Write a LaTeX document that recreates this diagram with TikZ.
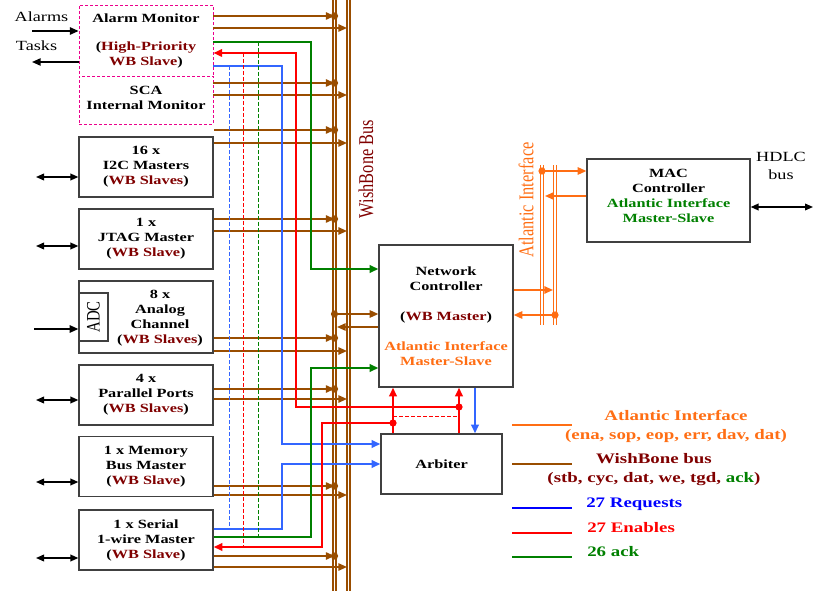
\documentclass[tikz,border=0pt]{standalone}
\usepackage{fontspec}
\setmainfont{Liberation Serif}[FakeStretch=1.3]
\newfontfamily\rotfont{Liberation Serif}[FakeStretch=0.78]
\usetikzlibrary{arrows.meta}
\definecolor{wbbrown}{RGB}{153,77,0}
\definecolor{wbred}{RGB}{128,0,0}
\definecolor{atlorange}{RGB}{255,110,20}
\definecolor{reqblue}{RGB}{51,102,255}
\definecolor{legblue}{RGB}{0,0,255}
\definecolor{ackgreen}{RGB}{0,128,0}
\definecolor{boxgray}{RGB}{64,64,64}
\newcommand{\blkfont}{\fontsize{9.4}{11.25}\selectfont\bfseries}
\newcommand{\legfont}{\fontsize{10.9}{14.2}\selectfont\bfseries}
\newcommand{\iofont}{\fontsize{10.5}{13.5}\selectfont}
\newcommand{\wb}[1]{\textcolor{wbred}{#1}}

\begin{document}
\begin{tikzpicture}[x=0.75pt,y=0.75pt,yscale=-1,xscale=1,
  blk/.style={draw=boxgray,line width=0.9pt,fill=white,minimum width=100.5pt,minimum height=45pt,inner sep=0pt,align=center,font=\blkfont},
  mon/.style={blk,draw=magenta,line width=0.6pt,dash pattern=on 2.25pt off 1.5pt},
  lbl/.style={inner sep=0pt,align=center},
  tipe/.style={-{Triangle[length=6.5pt,width=5.5pt]}},
  tipb/.style={{Triangle[length=6.5pt,width=5.5pt]}-},
  tipbe/.style={{Triangle[length=6pt,width=5pt]}-{Triangle[length=6pt,width=5pt]}},
  wbbus/.style={draw=wbbrown,double=white,double distance=1.3pt,line width=0.9pt},
  atbus/.style={draw=atlorange,double=white,double distance=1pt,line width=0.9pt},
  wbin/.style={wbbrown,line width=1.25pt,tipb},
  wbout/.style={wbbrown,line width=1.25pt,tipe},
  atl/.style={atlorange,line width=1.25pt,tipe},
  io/.style={black,line width=1.1pt},
  req/.style={reqblue,line width=1.7pt},
  en/.style={red,line width=1.7pt},
  ack/.style={ackgreen,line width=1.7pt},
  probe/.style={line width=0.6pt,dash pattern=on 3pt off 1.5pt}]
\useasboundingbox (0,0) rectangle (823,591);

%Straight Lines: WishBone and Atlantic buses
\draw[wbbus] (334.5,0) -- (334.5,591);
\draw[wbbus] (348.5,0) -- (348.5,591);
\draw[atbus] (542,165) -- (542,325);
\draw[atbus] (555,165) -- (555,325);
\coordinate (wbA) at (334.5,0);
\coordinate (wbB) at (347,0);
\coordinate (atA) at (542,0);
\coordinate (atB) at (555,0);

%Shape: Rectangle (slaves)
\node[mon,minimum height=53.25pt] (am) at (146,40.5) {Alarm Monitor\\[9.75pt](\wb{High-Priority}\\\wb{WB Slave})};
\node[mon,minimum height=36pt] (sca) at (146,100) {SCA\\Internal Monitor\\[-8pt]\mbox{}};
\node[blk] (i2c) at (146,167) {16 x\\I2C Masters\\(\wb{WB Slaves})};
\node[blk] (jtag) at (146,239) {1 x\\JTAG Master\\(\wb{WB Slave})};
\node[blk,minimum height=54pt] (ana) at (146,317) {};
\node[draw=boxgray,line width=0.9pt,minimum width=36pt,minimum height=21.75pt,inner sep=0pt,rotate=90,font={\rotfont\fontsize{14.25}{16}\selectfont}] (adc) at (93.5,317) {ADC};
\node[lbl,font=\blkfont] (anat) at (160,318) {8 x\\Analog\\Channel\\(\wb{WB Slaves})};
\node[blk] (par) at (146,395) {4 x\\Parallel Ports\\(\wb{WB Slaves})};
\node[blk] (mem) at (146,466.5) {1 x Memory\\Bus Master\\(\wb{WB Slave})};
\node[blk] (ser) at (146,540) {1 x Serial\\1-wire Master\\(\wb{WB Slave})};

%Shape: Rectangle (master side)
\node[blk,minimum height=106.5pt] (nc) at (446,316) {Network\\Controller\\[11.25pt](\wb{WB Master})\\[11.25pt]\textcolor{atlorange}{Atlantic Interface}\\\textcolor{atlorange}{Master-Slave}};
\node[blk,minimum width=90.75pt] (arb) at (441.5,464) {Arbiter};
\node[blk,minimum width=122.25pt,minimum height=62.25pt] (mac) at (668.5,200.5) {MAC\\Controller\\\textcolor{ackgreen}{Atlantic Interface}\\\textcolor{ackgreen}{Master-Slave}\\[-4pt]\mbox{}};

% Text Node
\node[lbl,font=\iofont] (alarms) at (41.5,17) {Alarms};
\node[lbl,font=\iofont] (tasks) at (36.5,46) {Tasks};
\node[lbl,font=\iofont] (hdlc) at (781,166) {HDLC\\bus};
\node[lbl,rotate=90,text=wbred,font={\rotfont\fontsize{15.75}{18}\selectfont}] (wblbl) at (366,169) {WishBone Bus};
\node[lbl,rotate=90,text=atlorange,font={\rotfont\fontsize{15.75}{18}\selectfont}] (atlbl) at (526,200) {Atlantic Interface};

%Straight Lines: outside world
\draw[io,tipe] (32,31) -- (am.west |- 0,31);
\draw[io,tipe] (am.west |- 0,62) -- (32,62);
\draw[io,tipbe] (36,177) -- (i2c.west |- 0,177);
\draw[io,tipbe] (36,246) -- (jtag.west |- 0,246);
\draw[io,tipe] (34,329) -- (ana.west |- 0,329);
\draw[io,tipbe] (36,400) -- (par.west |- 0,400);
\draw[io,tipbe] (36,482) -- (mem.west |- 0,482);
\draw[io,tipbe] (36,558) -- (ser.west |- 0,558);
\draw[io,tipbe] (mac.east |- 0,207) -- (813,207);

%Straight Lines: WishBone pairs
\draw[wbin] (wbA |- 0,16) -- (am.east |- 0,16);
\draw[wbout] (am.east |- 0,28) -- (wbB |- 0,28);
\draw[wbin] (wbA |- 0,83) -- (sca.east |- 0,83);
\draw[wbout] (sca.east |- 0,95) -- (wbB |- 0,95);
\draw[wbin] (wbA |- 0,130) -- (i2c.east |- 0,130);
\draw[wbout] (i2c.east |- 0,143) -- (wbB |- 0,143);
\draw[wbin] (wbA |- 0,219) -- (jtag.east |- 0,219);
\draw[wbout] (jtag.east |- 0,231) -- (wbB |- 0,231);
\draw[wbin] (wbA |- 0,338) -- (ana.east |- 0,338);
\draw[wbout] (ana.east |- 0,351) -- (wbB |- 0,351);
\draw[wbin] (wbA |- 0,389) -- (par.east |- 0,389);
\draw[wbout] (par.east |- 0,399) -- (wbB |- 0,399);
\draw[wbin] (wbA |- 0,486) -- (mem.east |- 0,486);
\draw[wbout] (mem.east |- 0,495) -- (wbB |- 0,495);
\draw[wbin] (wbA |- 0,556) -- (ser.east |- 0,556);
\draw[wbout] (ser.east |- 0,567) -- (wbB |- 0,567);
\draw[wbout] (wbA |- 0,314) -- (nc.west |- 0,314);
\draw[wbout] (nc.west |- 0,327) -- (337,327);
\fill[wbbrown] (wbA |- 0,16) circle (2.7pt) (wbA |- 0,83) circle (2.7pt) (wbA |- 0,130) circle (2.7pt) (wbA |- 0,219) circle (2.7pt) (wbA |- 0,314) circle (2.7pt) (wbA |- 0,338) circle (2.7pt) (wbA |- 0,389) circle (2.7pt) (wbA |- 0,486) circle (2.7pt) (wbA |- 0,556) circle (2.7pt);

%Straight Lines: Atlantic interface
\draw[atl] (atA |- 0,171) -- (mac.west |- 0,171);
\draw[atl] (mac.west |- 0,196) -- (545,196);
\draw[atl] (nc.east |- 0,290) -- (553,290);
\draw[atl] (atB |- 0,315) -- (nc.east |- 0,315);
\fill[atlorange] (atA |- 0,171) circle (2.7pt) (atB |- 0,315) circle (2.7pt);

%Straight Lines: requests
\draw[req,tipe] (am.east |- 0,66) -| (282,444) -- (arb.west |- 0,444);
\draw[req,tipe] (ser.east |- 0,529) -| (282,464) -- (arb.west |- 0,464);
\draw[req,tipe] (nc.south -| 475,0) -- (arb.north -| 475,0);
\draw[reqblue,probe] (229,66) -- (229,529);

%Straight Lines: enables
\coordinate (e1) at (459,407);
\coordinate (e2) at (393,423);
\draw[en,tipb] (am.east |- 0,53) -| (296,407) -- (e1);
\draw[en,tipb] (ser.east |- 0,547) -| (322,423) -- (e2);
\draw[en,tipe] (arb.north -| e1) -- (nc.south -| e1);
\draw[en,tipe] (arb.north -| e2) -- (nc.south -| e2);
\draw[red,probe] (e2 |- 0,416) -- (e1 |- 0,416);
\draw[red,probe] (243,53) -- (243,547);
\fill[red] (e1) circle (2.7pt) (e2) circle (2.7pt);

%Straight Lines: ack
\draw[ack,tipe] (am.east |- 0,42) -| (311,269) -- (nc.west |- 0,269);
\draw[ack,tipe] (ser.east |- 0,537) -| (311,368) -- (nc.west |- 0,368);
\draw[ackgreen,probe] (258,42) -- (258,537);

% Text Node: legend
\draw[atlorange,line width=1.7pt] (512,425) -- (572,425);
\draw[wbbrown,line width=1.7pt] (512,464) -- (572,464);
\draw[legblue,line width=1.7pt] (512,508) -- (572,508);
\draw[red,line width=1.7pt] (512,533) -- (572,533);
\draw[ackgreen,line width=1.7pt] (512,557) -- (572,557);
\node[lbl,font=\legfont,text=atlorange] (legatl) at (676,426.5) {Atlantic Interface\\(ena, sop, eop, err, dav, dat)};
\node[lbl,font=\legfont,text=wbred] (legwb) at (654,469.5) {WishBone bus\\(stb, cyc, dat, we, tgd, \textcolor{ackgreen}{ack})};
\node[lbl,font=\legfont,text=legblue,anchor=west] (legreq) at (586,504) {27 Requests};
\node[lbl,font=\legfont,text=red,anchor=west] (legen) at (587,528) {27 Enables};
\node[lbl,font=\legfont,text=ackgreen,anchor=west] (legack) at (587,552) {26 ack};

\end{tikzpicture}
\end{document}
